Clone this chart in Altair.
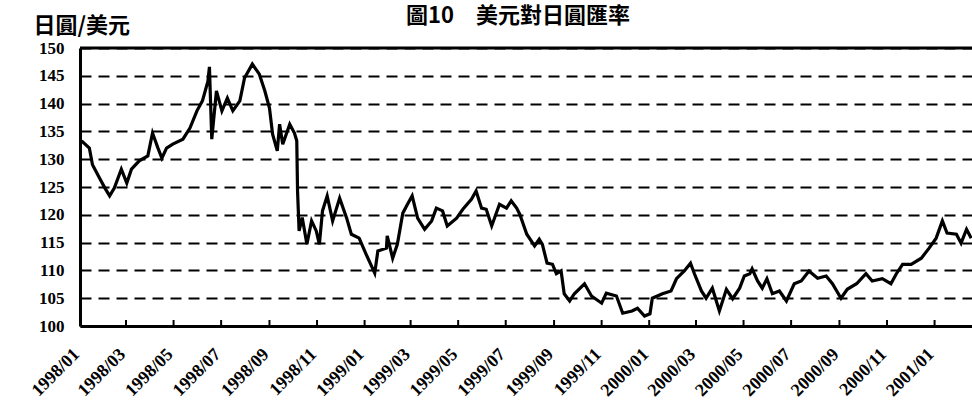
import altair as alt
import pandas as pd

# Daily-ish USD/JPY closing rate samples (yen per dollar)
dates = [
    "1998/01/03", "1998/01/13", "1998/01/17", "1998/01/26", "1998/02/02", "1998/02/08",
    "1998/02/14", "1998/02/23", "1998/03/02", "1998/03/08", "1998/03/18", "1998/03/29",
    "1998/04/04", "1998/04/11", "1998/04/16", "1998/04/22", "1998/04/30", "1998/05/13",
    "1998/05/22", "1998/05/31", "1998/06/07", "1998/06/14", "1998/06/16", "1998/06/19",
    "1998/06/25", "1998/07/02", "1998/07/09", "1998/07/16", "1998/07/25", "1998/07/31",
    "1998/08/10", "1998/08/19", "1998/08/26", "1998/09/01", "1998/09/05", "1998/09/11",
    "1998/09/14", "1998/09/18", "1998/09/27", "1998/10/03", "1998/10/06", "1998/10/07",
    "1998/10/09", "1998/10/13", "1998/10/19", "1998/10/25", "1998/10/31", "1998/11/04",
    "1998/11/08", "1998/11/14", "1998/11/21", "1998/11/30", "1998/12/09", "1998/12/15",
    "1998/12/25", "1999/01/03", "1999/01/14", "1999/01/18", "1999/01/29", "1999/01/30",
    "1999/02/06", "1999/02/12", "1999/02/19", "1999/02/25", "1999/03/03", "1999/03/10",
    "1999/03/19", "1999/03/28", "1999/04/03", "1999/04/11", "1999/04/17", "1999/04/29",
    "1999/05/07", "1999/05/18", "1999/05/24", "1999/05/31", "1999/06/06", "1999/06/13",
    "1999/06/23", "1999/07/02", "1999/07/08", "1999/07/15", "1999/07/19", "1999/07/28",
    "1999/08/07", "1999/08/13", "1999/08/17", "1999/08/23", "1999/08/30", "1999/09/04",
    "1999/09/10", "1999/09/14", "1999/09/21", "1999/09/27", "1999/10/10", "1999/10/19",
    "1999/11/01", "1999/11/07", "1999/11/20", "1999/11/28", "1999/12/10", "1999/12/17",
    "1999/12/26", "2000/01/02", "2000/01/05", "2000/01/18", "2000/01/29", "2000/02/05",
    "2000/02/15", "2000/02/23", "2000/02/28", "2000/03/08", "2000/03/14", "2000/03/22",
    "2000/03/31", "2000/04/09", "2000/04/17", "2000/04/26", "2000/05/02", "2000/05/09",
    "2000/05/12", "2000/05/19", "2000/05/25", "2000/05/31", "2000/06/07", "2000/06/16",
    "2000/06/25", "2000/07/05", "2000/07/14", "2000/07/24", "2000/08/04", "2000/08/15",
    "2000/08/23", "2000/09/03", "2000/09/11", "2000/09/23", "2000/10/05", "2000/10/13",
    "2000/10/26", "2000/11/06", "2000/11/13", "2000/11/21", "2000/12/02", "2000/12/15",
    "2000/12/25", "2001/01/03", "2001/01/11", "2001/01/17", "2001/01/29", "2001/02/04",
    "2001/02/11", "2001/02/17",
]
rates = [
    133.3, 132.0, 129.0, 126.6, 124.8, 123.4,
    124.8, 128.2, 125.7, 128.2, 129.7, 130.6,
    134.7, 132.0, 130.2, 132.0, 132.7, 133.6,
    135.6, 138.7, 140.5, 144.0, 146.6, 133.6,
    142.3, 138.7, 141.0, 138.7, 140.5, 144.6,
    147.1, 145.3, 142.3, 139.2, 134.5, 131.5,
    136.3, 132.7, 136.3, 134.7, 133.3, 124.3,
    117.1, 119.5, 114.7, 118.9, 117.1, 114.7,
    120.7, 123.4, 118.9, 123.0, 119.4, 116.5,
    115.8, 112.9, 109.5, 113.5, 114.0, 116.2,
    112.2, 114.7, 120.3, 121.9, 123.4, 119.4,
    117.4, 118.9, 121.2, 120.7, 118.0, 119.4,
    121.0, 122.8, 124.3, 121.2, 121.0, 118.0,
    121.9, 121.2, 122.5, 121.2, 120.1, 116.5,
    114.4, 115.6, 114.7, 111.3, 111.1, 109.4,
    109.9, 105.8, 104.5, 105.8, 107.6, 105.4,
    104.1, 105.9, 105.4, 102.3, 102.7, 103.2,
    101.8, 102.2, 105.0, 105.8, 106.3, 108.5,
    109.9, 111.3, 109.4, 106.3, 105.0, 106.8,
    102.7, 106.6, 104.9, 106.8, 109.0, 109.4,
    110.3, 108.1, 106.8, 108.5, 105.8, 106.3,
    104.5, 107.6, 108.1, 109.9, 108.6, 109.0,
    107.6, 105.0, 106.6, 107.6, 109.4, 108.1,
    108.5, 107.6, 109.4, 111.1, 111.1, 112.2,
    114.0, 115.8, 118.9, 116.7, 116.5, 114.9,
    117.4, 115.8,
]

# Bimonthly tick positions along the time axis
tick_dates = [
    "1998/01/01", "1998/03/01", "1998/05/01", "1998/07/01", "1998/09/01", "1998/11/01",
    "1999/01/01", "1999/03/01", "1999/05/01", "1999/07/01", "1999/09/01", "1999/11/01",
    "2000/01/01", "2000/03/01", "2000/05/01", "2000/07/01", "2000/09/01", "2000/11/01",
    "2001/01/01",
]
y_ticks = [100, 105, 110, 115, 120, 125, 130, 135, 140, 145, 150]
y_top = [150]
chart_title = ["圖10　美元對日圓匯率"]

W, H = 892, 278
NUM_FONT = "Liberation Serif"
CJK_FONT = "Noto Sans CJK TC"

df = pd.DataFrame({"date": dates, "rate": rates})
ticks_df = pd.DataFrame({"date": tick_dates})
top_df = pd.DataFrame({"level": y_top})
title_df = pd.DataFrame({"text": chart_title})

tick_values = [
    alt.DateTime(year=int(d[:4]), month=int(d[5:7]), date=1) for d in tick_dates
]

x_scale = alt.Scale(
    domain=[alt.DateTime(year=1998, month=1, date=1), alt.DateTime(year=2001, month=2, date=18)]
)
y_scale = alt.Scale(domain=[100, 150], nice=False, zero=False)

x_axis = alt.Axis(
    values=tick_values,
    format="%Y/%m",
    title=None,
    grid=False,
    ticks=False,
    domain=True,
    domainColor="black",
    domainWidth=3,
    labelAngle=-45,
    labelAlign="right",
    labelBaseline="top",
    labelPadding=19,
    labelOffset=-10,
    labelFont=NUM_FONT,
    labelFontWeight="bold",
    labelFontSize=18,
    labelColor="black",
    labelOverlap=False,
    labelBound=False,
    labelFlush=False,
)

y_axis = alt.Axis(
    values=y_ticks,
    title="日圓/美元",
    titleAngle=0,
    titleX=-47,
    titleY=-11,
    titleAlign="left",
    titleBaseline="bottom",
    titleFont=CJK_FONT,
    titleFontSize=22,
    titleFontWeight="bold",
    titleColor="black",
    grid=True,
    gridColor="black",
    gridDash=[11, 7],
    gridWidth=2,
    gridOpacity=1,
    ticks=False,
    domain=True,
    domainColor="black",
    domainWidth=3,
    labelPadding=16,
    labelFont=NUM_FONT,
    labelFontWeight="bold",
    labelFontSize=17,
    labelColor="black",
    labelOverlap=False,
    labelFlush=False,
)

line = alt.Chart(df).mark_line(color="black", strokeWidth=3.2).encode(
    x=alt.X("date:T", scale=x_scale, axis=x_axis),
    y=alt.Y("rate:Q", scale=y_scale, axis=y_axis),
)

# Short inward tick marks on the time axis
tick_marks = alt.Chart(ticks_df).mark_rule(color="black", strokeWidth=2).encode(
    x=alt.X("date:T", scale=x_scale, axis=x_axis),
    y=alt.value(H),
    y2=alt.value(H - 6),
)

# Top frame line
top_border = alt.Chart(top_df).mark_rule(color="black", strokeWidth=3).encode(
    y=alt.Y("level:Q", scale=y_scale, axis=y_axis),
)

# Chart heading above the plot
heading = alt.Chart(title_df).mark_text(
    font=CJK_FONT,
    fontSize=22,
    fontWeight="bold",
    color="black",
    align="center",
    baseline="alphabetic",
).encode(
    text="text:N",
    x=alt.value(438),
    y=alt.value(-25),
)

chart = (
    alt.layer(line, tick_marks, top_border, heading)
    .properties(
        width=W,
        height=H,
        autosize="none",
        padding={"left": 80, "top": 48, "right": 0, "bottom": 77},
    )
    .configure_view(stroke=None)
    .configure(background="white")
)

chart.save("out.html", embed_options={"renderer": "svg", "actions": False})
